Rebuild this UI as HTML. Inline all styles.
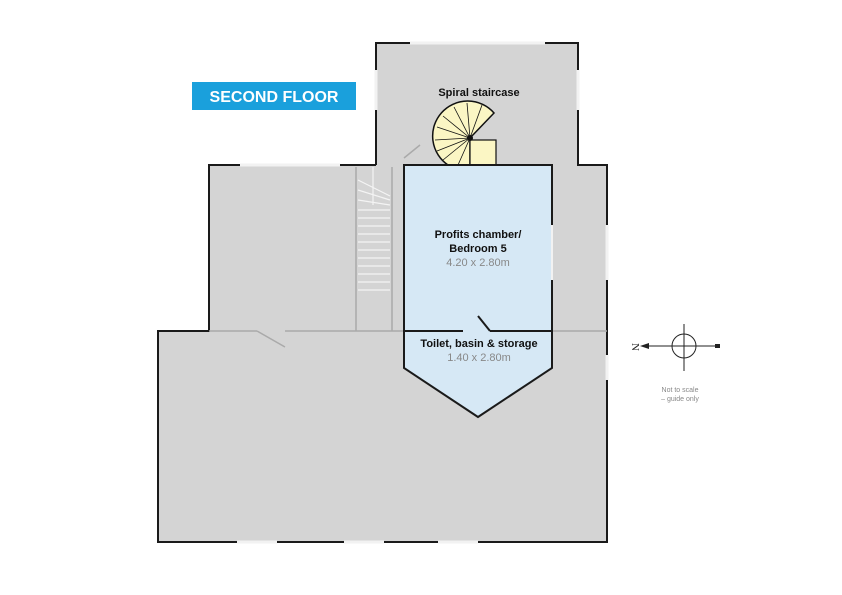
<!DOCTYPE html>
<html><head><style>body{margin:0;background:#fff}svg{display:block}</style></head><body>
<svg width="842" height="595" viewBox="0 0 842 595" xmlns="http://www.w3.org/2000/svg" font-family="Liberation Sans, sans-serif">
<rect width="842" height="595" fill="#fff"/>
<path d="M376 43H578V165H607V542H158V331H209V165H376Z" fill="#d4d4d4"/>
<path d="M376 165V43H578V165H607V542H158V331H209V165H376" fill="none" stroke="#1a1a1a" stroke-width="2"/>
<g stroke="#f2f2f2" stroke-width="3">
<line x1="376" y1="70" x2="376" y2="110"/><line x1="578" y1="70" x2="578" y2="110"/>
<line x1="410" y1="43" x2="545" y2="43"/>
<line x1="240" y1="165" x2="340" y2="165"/>
<line x1="607" y1="225" x2="607" y2="280"/><line x1="607" y1="355" x2="607" y2="380"/>
<line x1="237" y1="542" x2="277" y2="542"/><line x1="344" y1="542" x2="384" y2="542"/><line x1="438" y1="542" x2="478" y2="542"/>
</g>
<g stroke="#aaa" stroke-width="1.5" fill="none">
<line x1="209" y1="331" x2="257" y2="331"/><line x1="285" y1="331" x2="404" y2="331"/><line x1="552" y1="331" x2="607" y2="331"/>
<line x1="257" y1="331" x2="285" y2="347"/>
<line x1="356" y1="167" x2="356" y2="331"/><line x1="392" y1="167" x2="392" y2="331"/>
<line x1="404" y1="158" x2="420" y2="145"/>
</g>
<g stroke="#f4f4f4" stroke-width="1.2">
<line x1="358" y1="180" x2="390" y2="196"/><line x1="358" y1="190" x2="390" y2="200"/><line x1="358" y1="200" x2="390" y2="205"/>
<line x1="358" y1="210" x2="390" y2="210"/><line x1="358" y1="218" x2="390" y2="218"/><line x1="358" y1="226" x2="390" y2="226"/>
<line x1="358" y1="234" x2="390" y2="234"/><line x1="358" y1="242" x2="390" y2="242"/><line x1="358" y1="250" x2="390" y2="250"/>
<line x1="358" y1="258" x2="390" y2="258"/><line x1="358" y1="266" x2="390" y2="266"/><line x1="358" y1="274" x2="390" y2="274"/>
<line x1="358" y1="282" x2="390" y2="282"/><line x1="358" y1="290" x2="390" y2="290"/>
<line x1="373" y1="167" x2="373" y2="205"/>
</g>
<path d="M470 138 L494 113 A35 35 0 1 0 448 165 L470 165 Z" fill="#fbf6c4" stroke="#111" stroke-width="1.5"/>
<rect x="470" y="140" width="26" height="25" fill="#fbf6c4" stroke="#111" stroke-width="1.2"/>
<g stroke="#111" stroke-width="0.8">
<line x1="470" y1="138" x2="482" y2="105"/><line x1="470" y1="138" x2="467" y2="103"/><line x1="470" y1="138" x2="454" y2="107"/>
<line x1="470" y1="138" x2="443" y2="116"/><line x1="470" y1="138" x2="437" y2="127"/><line x1="470" y1="138" x2="435" y2="140"/>
<line x1="470" y1="138" x2="437" y2="151"/><line x1="470" y1="138" x2="443" y2="160"/><line x1="470" y1="138" x2="458" y2="165"/>
</g>
<circle cx="470" cy="138" r="3" fill="#111"/>
<path d="M404 165H552V368L478 417L404 368Z" fill="#d6e8f5" stroke="#1a1a1a" stroke-width="2"/>
<line x1="404" y1="331" x2="463" y2="331" stroke="#1a1a1a" stroke-width="2"/>
<line x1="490" y1="331" x2="552" y2="331" stroke="#1a1a1a" stroke-width="2"/>
<line x1="478" y1="316" x2="490" y2="331" stroke="#1a1a1a" stroke-width="2"/>
<line x1="552" y1="225" x2="552" y2="280" stroke="#f2f2f2" stroke-width="2"/>
<rect x="192" y="82" width="164" height="28" fill="#1aa0dc"/>
<text x="274" y="102" text-anchor="middle" fill="#fff" font-size="16" font-weight="bold">SECOND FLOOR</text>
<text x="479" y="96" text-anchor="middle" font-size="11" font-weight="bold" fill="#111">Spiral staircase</text>
<text x="478" y="238" text-anchor="middle" font-size="11" font-weight="bold" fill="#111">Profits chamber/</text>
<text x="478" y="252" text-anchor="middle" font-size="11" font-weight="bold" fill="#111">Bedroom 5</text>
<text x="478" y="266" text-anchor="middle" font-size="11" fill="#888">4.20 x 2.80m</text>
<text x="479" y="347" text-anchor="middle" font-size="11" font-weight="bold" fill="#111">Toilet, basin &amp; storage</text>
<text x="479" y="361" text-anchor="middle" font-size="11" fill="#888">1.40 x 2.80m</text>
<g stroke="#222" stroke-width="1" fill="none">
<circle cx="684" cy="346" r="12"/>
<line x1="684" y1="324" x2="684" y2="371"/>
<line x1="644" y1="346" x2="717" y2="346"/>
</g>
<path d="M640 346L649 343V349Z" fill="#222"/>
<rect x="715" y="344" width="5" height="4" fill="#222"/>
<text x="632" y="347" font-size="11" fill="#222" font-family="Liberation Serif, serif" transform="rotate(90 632 347)" text-anchor="middle">N</text>
<text x="680" y="392" text-anchor="middle" font-size="7" fill="#888">Not to scale</text>
<text x="680" y="401" text-anchor="middle" font-size="7" fill="#888">– guide only</text>
</svg>
</body></html>
